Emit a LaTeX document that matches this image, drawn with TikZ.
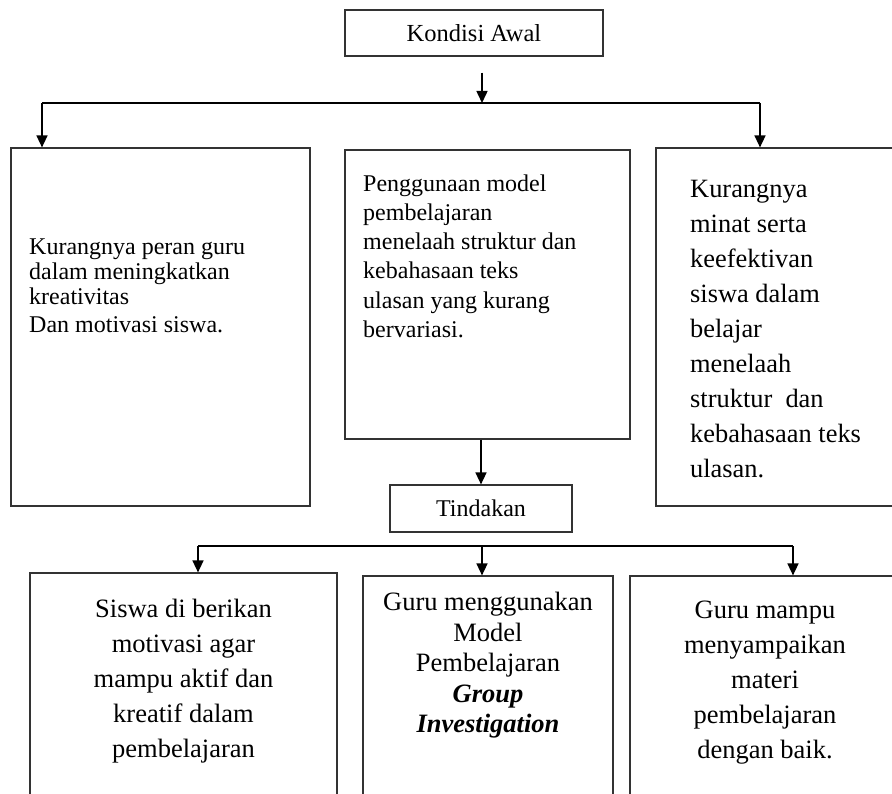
\documentclass[tikz,border=0pt]{standalone}
\usepackage{fontspec}
\setmainfont{Liberation Serif}
\usetikzlibrary{arrows.meta}

\tikzset{
    box/.style={draw=black!80, line width=1.2pt, inner sep=0pt},
    link/.style={line width=1.5pt, -{Triangle[width=11pt,length=12pt]}},
    bar/.style={line width=1.5pt},
    txt/.style={inner sep=0pt, align=left},
    ctxt/.style={inner sep=0pt, align=center, anchor=north}
}

\begin{document}
\begin{tikzpicture}[x=1pt, y=-1pt]
                \useasboundingbox (0,0) rectangle (892,794);
                \clip (0,0) rectangle (892,794);
                
                % Top boxes
                \node[box, minimum width=258pt, minimum height=46pt, font=\fontsize{24.5}{28}\selectfont] (awal) at (474,33) {Kondisi Awal};
                \node[box, minimum width=299pt, minimum height=358pt] (peran) at (160.5,327) {};
                \node[box, minimum width=285pt, minimum height=289pt] (model) at (487.5,294.5) {};
                \node[box, minimum width=249pt, minimum height=358pt] (minat) at (780.5,327) {};
                \node[box, minimum width=182pt, minimum height=47pt, font=\fontsize{24}{28}\selectfont] (tindakan) at (481,508.5) {Tindakan};
                
                % Bottom boxes
                \node[box, minimum width=307pt, minimum height=247pt] (motivasi) at (183.5,696.5) {};
                \node[box, minimum width=250pt, minimum height=244pt] (gi) at (488,698) {};
                \node[box, minimum width=270pt, minimum height=244pt] (materi) at (765,698) {};
                
                % Texts
                \node[txt, anchor=north west, font=\fontsize{24}{25}\selectfont] (tperan) at (29,238.5) {Kurangnya peran guru\\dalam meningkatkan\\kreativitas\\[3pt]Dan motivasi siswa.};
                \node[txt, anchor=north west, font=\fontsize{24}{29.2}\selectfont] (tmodel) at (363,174.5) {Penggunaan model\\pembelajaran\\menelaah struktur dan\\kebahasaan teks\\ulasan yang kurang\\bervariasi.};
                \node[txt, anchor=north west, font=\fontsize{26.4}{35}\selectfont] (tminat) at (690,180.5) {Kurangnya\\minat serta\\keefektivan\\siswa dalam\\belajar\\menelaah\\struktur\ \ dan\\kebahasaan teks\\ulasan.};
                \node[ctxt, font=\fontsize{26.5}{35}\selectfont] (tmotivasi) at (183.5,599) {Siswa di berikan\\motivasi agar\\mampu aktif dan\\kreatif dalam\\pembelajaran};
                \node[ctxt, font=\fontsize{26.5}{30.5}\selectfont] (tgi) at (488,592) {Guru menggunakan\\Model\\Pembelajaran\\\textbf{\textit{Group}}\\\textbf{\textit{Investigation}}};
                \node[ctxt, font=\fontsize{26.5}{35}\selectfont] (tmateri) at (765,600.5) {Guru mampu\\menyampaikan\\materi\\pembelajaran\\dengan baik.};
                
                % Branch points
                \coordinate (split1) at (482,103);
                \coordinate (s1l) at (42,103);
                \coordinate (s1r) at (760,103);
                \coordinate (split2) at (482,546);
                \coordinate (s2l) at (198,546);
                \coordinate (s2r) at (793,546);
                
                % Arrows from Kondisi Awal
                \draw[link] ([yshift=-16pt]awal.south -| split1) -- (split1);
                \draw[bar] (s1l) -- (s1r);
                \draw[link] (s1l) -- (s1l |- peran.north);
                \draw[link] (s1r) -- (s1r |- minat.north);
                \draw[link] (tindakan.north |- model.south) -- (tindakan.north);
                
                % Arrows to the actions
                \draw[bar] (s2l) -- (s2r);
                \foreach \p/\b in {s2l/motivasi, split2/gi, s2r/materi} {
                    \draw[link] (\p) -- (\p |- \b.north);
                }
            \end{tikzpicture}
\end{document}
